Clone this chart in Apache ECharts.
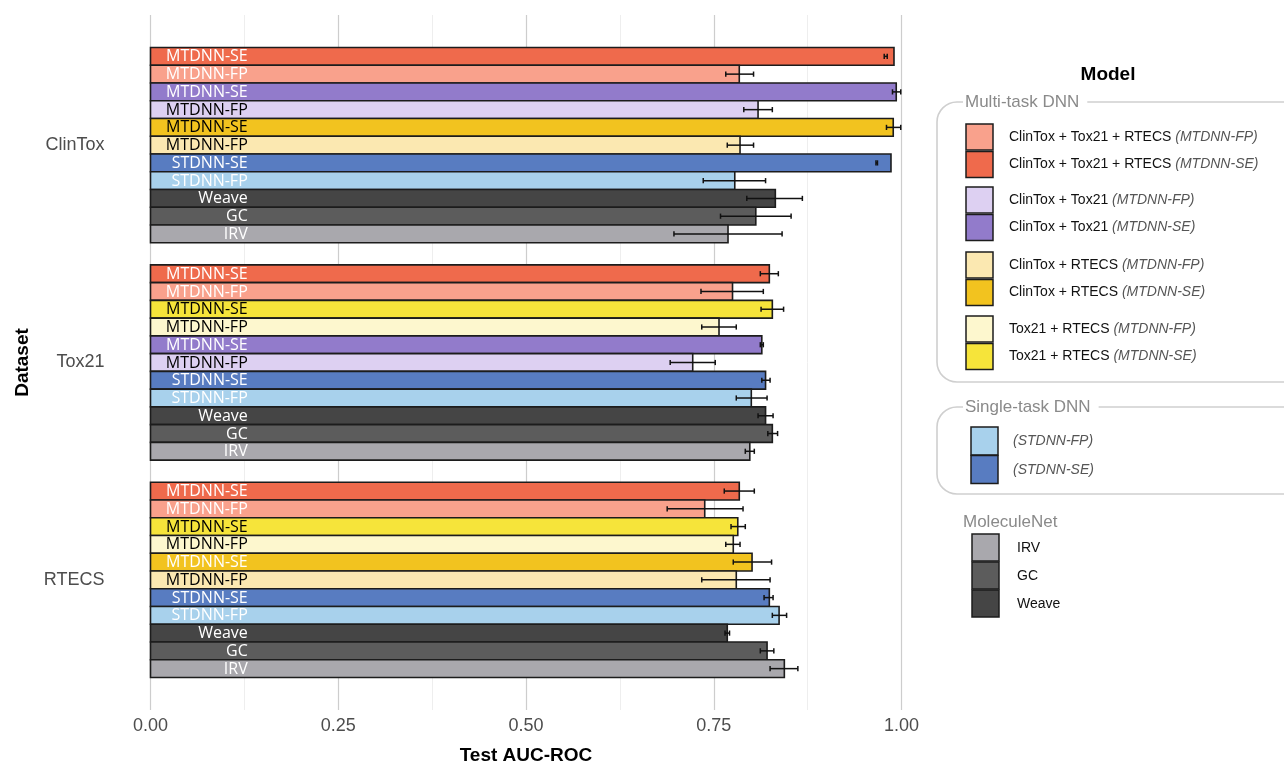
<!DOCTYPE html>
<html>
<head>
<meta charset="utf-8">
<script src="https://cdn.jsdelivr.net/npm/echarts@6/dist/echarts.min.js"></script>
<style>html,body{margin:0;padding:0;background:#fff}#chart{width:1284px;height:765px}</style>
</head>
<body>
<div id="chart"></div>
<script>
// ---------------- DATA ----------------
const DATASETS = ['ClinTox', 'Tox21', 'RTECS'];
const X_TICK_LABELS = ['0.00', '0.25', '0.50', '0.75', '1.00'];

// model keys (CTR = ClinTox+Tox21+RTECS, CT = ClinTox+Tox21, CR = ClinTox+RTECS, TR = Tox21+RTECS, ST = single-task)
const MODELS = ['CTR-FP', 'CTR-SE', 'CT-FP', 'CT-SE', 'CR-FP', 'CR-SE', 'TR-FP', 'TR-SE', 'ST-FP', 'ST-SE', 'IRV', 'GC', 'Weave'];
const MODEL_SHORT = ['MTDNN-FP', 'MTDNN-SE', 'MTDNN-FP', 'MTDNN-SE', 'MTDNN-FP', 'MTDNN-SE', 'MTDNN-FP', 'MTDNN-SE', 'STDNN-FP', 'STDNN-SE', 'IRV', 'GC', 'Weave'];

const CLINTOX_MODELS = ['CTR-SE', 'CTR-FP', 'CT-SE', 'CT-FP', 'CR-SE', 'CR-FP', 'ST-SE', 'ST-FP', 'Weave', 'GC', 'IRV'];
const CLINTOX_AUC  = [0.990, 0.784, 0.993, 0.809, 0.989, 0.785, 0.986, 0.778, 0.832, 0.806, 0.769];
const CLINTOX_LOW  = [0.977, 0.766, 0.988, 0.790, 0.980, 0.768, 0.966, 0.736, 0.794, 0.759, 0.697];
const CLINTOX_HIGH = [0.981, 0.803, 0.999, 0.828, 0.999, 0.803, 0.968, 0.819, 0.868, 0.853, 0.841];

const TOX21_MODELS = ['CTR-SE', 'CTR-FP', 'TR-SE', 'TR-FP', 'CT-SE', 'CT-FP', 'ST-SE', 'ST-FP', 'Weave', 'GC', 'IRV'];
const TOX21_AUC  = [0.824, 0.775, 0.828, 0.757, 0.814, 0.722, 0.819, 0.800, 0.819, 0.828, 0.798];
const TOX21_LOW  = [0.812, 0.733, 0.813, 0.734, 0.812, 0.692, 0.814, 0.780, 0.809, 0.822, 0.792];
const TOX21_HIGH = [0.836, 0.816, 0.843, 0.780, 0.816, 0.752, 0.825, 0.821, 0.829, 0.835, 0.804];

const RTECS_MODELS = ['CTR-SE', 'CTR-FP', 'TR-SE', 'TR-FP', 'CR-SE', 'CR-FP', 'ST-SE', 'ST-FP', 'Weave', 'GC', 'IRV'];
const RTECS_AUC  = [0.784, 0.738, 0.782, 0.776, 0.801, 0.780, 0.824, 0.837, 0.768, 0.821, 0.844];
const RTECS_LOW  = [0.764, 0.688, 0.773, 0.766, 0.776, 0.734, 0.817, 0.828, 0.765, 0.812, 0.825];
const RTECS_HIGH = [0.804, 0.789, 0.792, 0.785, 0.827, 0.825, 0.829, 0.847, 0.771, 0.830, 0.862];

// ---------------- STYLE ----------------
const COLORS = {
  'CTR-SE': '#EF6A4C', 'CTR-FP': '#F9A18C',
  'CT-SE': '#927BCB',  'CT-FP': '#DDD0F2',
  'CR-SE': '#F2C31F',  'CR-FP': '#FBE8B1',
  'TR-SE': '#F6E43A',  'TR-FP': '#FDF7CE',
  'ST-SE': '#587CC1',  'ST-FP': '#A8D1EC',
  'Weave': '#454545',  'GC': '#5C5C5C', 'IRV': '#A9A8AD'
};
const DARK_TEXT = {
  ClinTox: ['CT-FP', 'CR-SE', 'CR-FP'],
  Tox21: ['TR-SE', 'TR-FP', 'CT-FP'],
  RTECS: ['TR-SE', 'TR-FP', 'CR-FP']
};
const GROUP_PITCH = 12.24;   // group spacing in bar slots
const LABEL_X = 0.1295;      // right edge of in-bar labels (data units)

// ---------------- BUILD ----------------
const groups = [
  [CLINTOX_MODELS, CLINTOX_AUC, CLINTOX_LOW, CLINTOX_HIGH],
  [TOX21_MODELS, TOX21_AUC, TOX21_LOW, TOX21_HIGH],
  [RTECS_MODELS, RTECS_AUC, RTECS_LOW, RTECS_HIGH]
];
const rows = [];
groups.forEach((grp, g) => {
  const [mods, auc, lo, hi] = grp;
  mods.forEach((m, i) => {
    rows.push([auc[i], lo[i], hi[i], g * GROUP_PITCH + i + 0.5, MODELS.indexOf(m), g]);
  });
});
const groupCenters = DATASETS.map((d, g) => g * GROUP_PITCH + 5.5);

const chart = echarts.init(document.getElementById('chart'), null, { renderer: 'canvas' });

function renderBar(params, api) {
  const v = api.value(0), y = api.value(3), m = api.value(4), g = api.value(5);
  const key = MODELS[m];
  const a = api.coord([0, y]), b = api.coord([v, y]);
  const h = api.size([0, 1])[1];
  const t = api.coord([LABEL_X, y]);
  const dark = DARK_TEXT[DATASETS[g]].indexOf(key) >= 0;
  return {
    type: 'group',
    children: [
      { type: 'rect', shape: { x: a[0], y: a[1] - h / 2, width: b[0] - a[0], height: h },
        style: { fill: COLORS[key], stroke: '#1c1c1c', lineWidth: 1.6 } },
      { type: 'text', x: t[0], y: t[1] + 0.5,
        style: { text: MODEL_SHORT[m], fill: dark ? '#000' : '#fff', font: '16px "Open Sans"',
                 align: 'right', verticalAlign: 'middle' } }
    ]
  };
}
function renderErr(params, api) {
  const lo = api.value(1), hi = api.value(2), y = api.value(3);
  const a = api.coord([lo, y]), b = api.coord([hi, y]);
  const c = 2.6;
  const st = { stroke: '#111', lineWidth: 1.5 };
  return {
    type: 'group',
    children: [
      { type: 'line', shape: { x1: a[0], y1: a[1], x2: b[0], y2: b[1] }, style: st },
      { type: 'line', shape: { x1: a[0], y1: a[1] - c, x2: a[0], y2: a[1] + c }, style: st },
      { type: 'line', shape: { x1: b[0], y1: b[1] - c, x2: b[0], y2: b[1] + c }, style: st }
    ]
  };
}

// ---------------- LEGEND (graphic) ----------------
const legendGraphics = [];
const FONT = '"Liberation Sans", Arial, sans-serif';
legendGraphics.push({ type: 'text', x: 1108, y: 75,
  style: { text: 'Model', font: 'bold 19px ' + FONT, fill: '#000', align: 'center', verticalAlign: 'middle' } });

function box(x, y, h, title) {
  legendGraphics.push({ type: 'rect', shape: { x: x, y: y, width: 420, height: h, r: 20 },
    style: { fill: 'none', stroke: '#cfcfcf', lineWidth: 1.6 } });
  legendGraphics.push({ type: 'text', x: x + 26, y: y,
    style: { text: title, font: '17px ' + FONT, fill: '#8a8a8a', align: 'left', verticalAlign: 'middle',
             backgroundColor: '#fff', padding: [2, 8, 2, 2] } });
}
function sw(x, y, w, h, color) {
  legendGraphics.push({ type: 'rect', shape: { x: x, y: y, width: w, height: h },
    style: { fill: color, stroke: '#1c1c1c', lineWidth: 1.5 } });
}
function lbl(x, y, normal, italic) {
  legendGraphics.push({ type: 'text', x: x, y: y,
    style: { text: (normal ? '{n|' + normal + '}' : '') + (italic ? '{i|' + italic + '}' : ''),
             verticalAlign: 'middle', align: 'left',
             rich: { n: { font: '14px ' + FONT, fill: '#111' }, i: { font: 'italic 14px ' + FONT, fill: '#555' } } } });
}
box(937, 102, 280, 'Multi-task DNN');
const mtItems = [
  ['CTR-FP', 124, 'ClinTox + Tox21 + RTECS ', '(MTDNN-FP)'],
  ['CTR-SE', 151.5, 'ClinTox + Tox21 + RTECS ', '(MTDNN-SE)'],
  ['CT-FP', 187, 'ClinTox + Tox21 ', '(MTDNN-FP)'],
  ['CT-SE', 214.5, 'ClinTox + Tox21 ', '(MTDNN-SE)'],
  ['CR-FP', 252, 'ClinTox + RTECS ', '(MTDNN-FP)'],
  ['CR-SE', 279.5, 'ClinTox + RTECS ', '(MTDNN-SE)'],
  ['TR-FP', 316, 'Tox21 + RTECS ', '(MTDNN-FP)'],
  ['TR-SE', 343.5, 'Tox21 + RTECS ', '(MTDNN-SE)']
];
mtItems.forEach(it => { sw(966, it[1], 27, 26, COLORS[it[0]]); lbl(1009, it[1] + 13, it[2], it[3]); });

box(937, 407, 87, 'Single-task DNN');
sw(971, 427, 27, 28, COLORS['ST-FP']); lbl(1013, 441, '', '(STDNN-FP)');
sw(971, 455.5, 27, 28, COLORS['ST-SE']); lbl(1013, 470, '', '(STDNN-SE)');

legendGraphics.push({ type: 'text', x: 963, y: 522,
  style: { text: 'MoleculeNet', font: '17px ' + FONT, fill: '#8a8a8a', align: 'left', verticalAlign: 'middle' } });
sw(972, 534, 27, 27, COLORS['IRV']); lbl(1017, 548, 'IRV', '');
sw(972, 562, 27, 27, COLORS['GC']); lbl(1017, 576, 'GC', '');
sw(972, 590, 27, 27, COLORS['Weave']); lbl(1017, 604, 'Weave', '');

const option = {
  backgroundColor: '#fff',
  animation: false,
  grid: { left: 150.5, top: 15, width: 751, height: 695, containLabel: false, outerBoundsMode: 'none' },
  xAxis: {
    type: 'value', min: 0, max: 1, interval: 0.25,
    name: 'Test AUC-ROC', nameLocation: 'middle', nameGap: 36,
    nameTextStyle: { fontFamily: FONT, fontWeight: 'bold', fontSize: 19, color: '#000' },
    axisLine: { show: false }, axisTick: { show: false },
    axisLabel: { fontFamily: FONT, fontSize: 18, color: '#4d4d4d', margin: 7,
                 formatter: v => X_TICK_LABELS[Math.round(v / 0.25)] },
    splitLine: { show: true, lineStyle: { color: '#cdcdcd', width: 1.2 } },
    minorTick: { show: false, splitNumber: 2 },
    minorSplitLine: { show: true, lineStyle: { color: '#eeeeee', width: 1 } }
  },
  yAxis: {
    type: 'value', inverse: true, min: -1.83, max: 37.31,
    name: 'Dataset', nameLocation: 'middle', nameGap: 118, nameRotate: 90,
    nameTextStyle: { fontFamily: FONT, fontWeight: 'bold', fontSize: 19, color: '#000' },
    axisLine: { show: false }, axisTick: { show: false }, splitLine: { show: false },
    axisLabel: { customValues: groupCenters, fontFamily: FONT, fontSize: 18, color: '#4d4d4d', margin: 46,
                 formatter: v => { const i = groupCenters.findIndex(c => Math.abs(c - v) < 0.01); return i >= 0 ? DATASETS[i] : ''; } }
  },
  series: [
    { type: 'custom', name: 'bars', data: rows, renderItem: renderBar, clip: false, z: 2,
      encode: { x: 0, y: 3 } },
    { type: 'custom', name: 'err', data: rows, renderItem: renderErr, clip: false, z: 3,
      encode: { x: [1, 2], y: 3 } }
  ],
  graphic: legendGraphics
};
chart.setOption(option);
</script>
</body>
</html>
